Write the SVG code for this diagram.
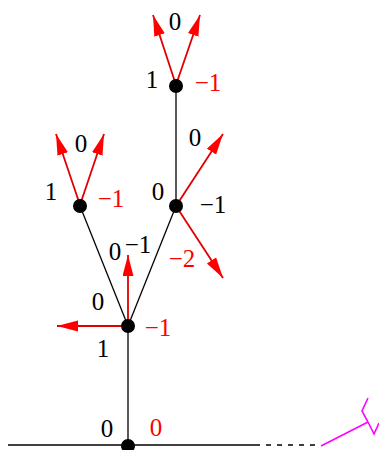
<svg xmlns="http://www.w3.org/2000/svg" width="379" height="450" viewBox="0 0 379 450">
<style>
.e{stroke:#000;stroke-width:1.3;fill:none}
.a{stroke:#e00000;stroke-width:1.8;fill:none;marker-end:url(#ah)}
.m{stroke:#ff00ff;stroke-width:1.6;fill:none}
.n{fill:#000}
.r{fill:#ff0000}
.k{fill:#000}
</style>
<defs>
<marker id="ah" markerUnits="userSpaceOnUse" markerWidth="22" markerHeight="12" refX="21" refY="5.5" orient="auto">
<path d="M0,0 L21,5.5 L0,11 z" fill="#ff0000"/>
</marker>
</defs>
<rect width="379" height="450" fill="#fff"/>
<g id="connectors">
<line class="e" x1="8" y1="445" x2="255" y2="445"/>
<line class="e" x1="255" y1="445" x2="315" y2="445" stroke-dasharray="5,6"/>
<line class="e" x1="128" y1="446" x2="128" y2="326"/>
<line class="e" x1="128" y1="326" x2="80" y2="206"/>
<line class="e" x1="128" y1="326" x2="176" y2="206"/>
<line class="e" x1="176" y1="206" x2="176" y2="86"/>
<polyline class="m" points="321,446 368,422"/>
<polyline class="m" points="368,398 362,411 368,422 374,434 379,423"/>
<line class="a" x1="128" y1="326" x2="57" y2="326"/>
<line class="a" x1="128" y1="320" x2="128" y2="255"/>
<line class="a" x1="79" y1="202" x2="56" y2="134"/>
<line class="a" x1="81" y1="202" x2="104" y2="134"/>
<line class="a" x1="176" y1="206" x2="223" y2="134"/>
<line class="a" x1="176" y1="206" x2="223" y2="278"/>
<line class="a" x1="175" y1="82" x2="153" y2="15"/>
<line class="a" x1="177" y1="82" x2="200" y2="15"/>
</g>
<g font-family="'Liberation Serif', 'Times New Roman', serif" font-size="25" text-anchor="middle">
<g id="nodeA">
<circle class="n" cx="128" cy="446" r="7"/>
<text x="107" y="437" class="k">0</text>
<text x="156" y="436" class="r">0</text>
</g>
<g id="nodeB">
<circle class="n" cx="128" cy="326" r="7"/>
<text x="98" y="310" class="k">0</text>
<text x="103" y="357" class="k">1</text>
<text x="158" y="336" class="r">−1</text>
<text x="115" y="260" class="k">0</text>
<text x="138" y="253" class="k">−1</text>
</g>
<g id="nodeC">
<circle class="n" cx="80" cy="206" r="7"/>
<text x="81" y="152" class="k">0</text>
<text x="51" y="200" class="k">1</text>
<text x="111" y="207" class="r">−1</text>
</g>
<g id="nodeD">
<circle class="n" cx="176" cy="206" r="7"/>
<text x="158" y="200" class="k">0</text>
<text x="195" y="146" class="k">0</text>
<text x="213" y="213" class="k">−1</text>
<text x="182" y="267" class="r">−2</text>
</g>
<g id="nodeE">
<circle class="n" cx="176" cy="86" r="7"/>
<text x="175" y="30" class="k">0</text>
<text x="152" y="88" class="k">1</text>
<text x="208" y="91" class="r">−1</text>
</g>
</g>
</svg>
